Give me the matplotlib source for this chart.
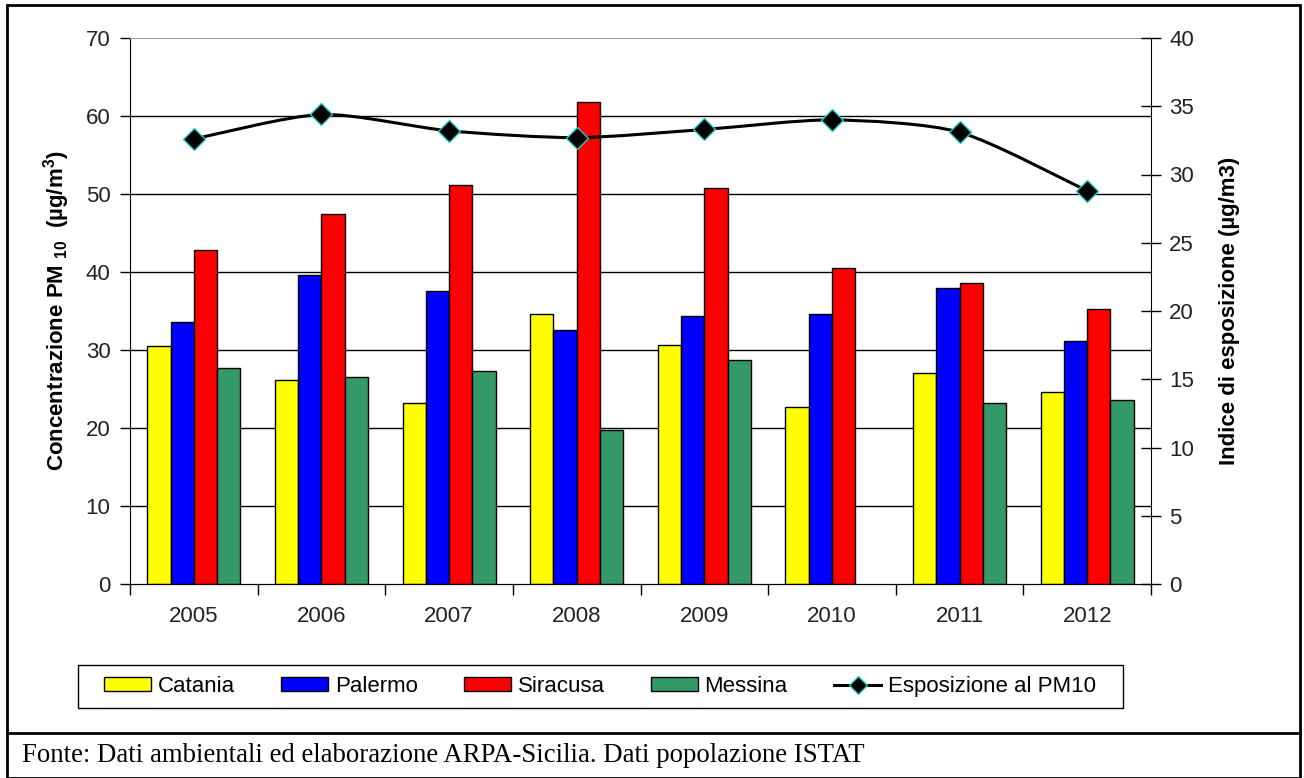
import matplotlib
matplotlib.use("Agg")
import matplotlib.pyplot as plt
import numpy as np
from matplotlib.path import Path
from matplotlib.patches import PathPatch, Rectangle, Patch
from matplotlib.lines import Line2D

plt.rcParams['font.family'] = ['Liberation Sans', 'DejaVu Sans']
plt.rcParams['mathtext.fontset'] = 'custom'
plt.rcParams['mathtext.rm'] = 'Liberation Sans:bold'
plt.rcParams['mathtext.bf'] = 'Liberation Sans:bold'

# Data
years = ["2005", "2006", "2007", "2008", "2009", "2010", "2011", "2012"]
catania = [30.5, 26.2, 23.2, 34.6, 30.6, 22.7, 27.0, 24.6]
palermo = [33.6, 39.6, 37.6, 32.6, 34.4, 34.6, 38.0, 31.2]
siracusa = [42.8, 47.4, 51.2, 61.8, 50.8, 40.5, 38.6, 35.3]
messina = [27.7, 26.5, 27.3, 19.7, 28.7, np.nan, 23.2, 23.6]
esposizione = [32.6, 34.4, 33.2, 32.7, 33.3, 34.0, 33.1, 28.8]

series = [("Catania", catania, "#FFFF00"),
          ("Palermo", palermo, "#0000FF"),
          ("Siracusa", siracusa, "#FF0000"),
          ("Messina", messina, "#339966")]

W, H = 1304, 778
fig = plt.figure(figsize=(W / 100, H / 100), dpi=100)
ax = fig.add_axes([130 / W, 1 - 584 / H, (1151 - 130) / W, (584 - 38) / H])

x = np.arange(len(years))
bw = 0.182
for i, (name, vals, col) in enumerate(series):
    ax.bar(x + (i - 1.5) * bw, vals, width=bw, color=col,
           edgecolor="black", linewidth=1, label=name, zorder=3)

# Left axis
ax.set_xlim(-0.5, len(years) - 0.5)
ax.set_ylim(0, 70)
ax.set_yticks(np.arange(0, 71, 10))
for v in range(10, 70, 10):
    ax.axhline(v, color="black", linewidth=1, zorder=1)
ax.set_xticks(x)
ax.set_xticklabels(years, fontsize=16, color="#222222")
ax.set_xticks(np.arange(-0.5, len(years), 1), minor=True)
ax.tick_params(axis="x", which="major", length=0, pad=16)
ax.tick_params(axis="x", which="minor", length=8, direction="out", width=1)
ax.tick_params(axis="y", labelsize=16, labelcolor="#222222", length=7,
               width=1, direction="out", pad=7)
ax.spines["top"].set_color("#999999")
ax.spines["right"].set_visible(False)
ax.set_ylabel(r"Concentrazione PM $_{10}$  (µg/m$^{3}$)",
              fontsize=16, fontweight="bold", labelpad=10)

# Right axis
ax2 = ax.twinx()
ax2.set_ylim(0, 40)
ax2.set_yticks(np.arange(0, 41, 5))
ax2.tick_params(axis="y", labelsize=16, labelcolor="#222222", length=14,
                width=1, direction="inout", pad=6)
ax2.spines["top"].set_visible(False)
ax2.spines["left"].set_visible(False)
ax2.set_ylabel("Indice di esposizione (µg/m3)", fontsize=16,
               fontweight="bold", labelpad=18)

# Smoothed line (Excel style bezier through the points)
pts = np.column_stack([x, esposizione]).astype(float)
ext = np.vstack([pts[0], pts, pts[-1]])
verts = [tuple(pts[0])]
codes = [Path.MOVETO]
for k in range(len(pts) - 1):
    p0, p1, p2, p3 = ext[k], ext[k + 1], ext[k + 2], ext[k + 3]
    c1 = p1 + (p2 - p0) / 8
    c2 = p2 - (p3 - p1) / 8
    verts += [tuple(c1), tuple(c2), tuple(p2)]
    codes += [Path.CURVE4] * 3
ax2.add_patch(PathPatch(Path(verts, codes), facecolor="none",
                        edgecolor="black", linewidth=2.2, zorder=4))
ax2.plot(x, esposizione, linestyle="none", marker="D", markersize=11,
         markerfacecolor="black", markeredgecolor="#22CCCC",
         markeredgewidth=1, zorder=5)

# Legend (items centred, frame drawn separately to match the box size)
handles = [Patch(facecolor=c, edgecolor="black", label=n) for n, _, c in series]
handles.append(Line2D([], [], color="black", linewidth=2.2, marker="D",
                      markersize=9, markerfacecolor="black",
                      markeredgecolor="#22CCCC", label="Esposizione al PM10"))
leg = fig.legend(handles=handles, loc="center", ncol=5,
                 bbox_to_anchor=(600 / W, 1 - 686.5 / H), fontsize=16,
                 frameon=False, handlelength=2.1, handleheight=0.55,
                 handletextpad=0.3, columnspacing=2.1)
fig.add_artist(Rectangle((78 / W, 1 - 708 / H), (1123 - 78) / W, 43 / H,
                         transform=fig.transFigure, fill=False,
                         edgecolor="black", linewidth=1))

# Outer frame and source note
fig.add_artist(Rectangle((7 / W, 0), (1300 - 7) / W, 1 - 5 / H,
                         transform=fig.transFigure, fill=False,
                         edgecolor="black", linewidth=2))
fig.add_artist(Line2D([7 / W, 1300 / W], [1 - 733 / H, 1 - 733 / H],
                      transform=fig.transFigure, color="black", linewidth=2))
fig.text(22 / W, 1 - 755 / H,
         "Fonte: Dati ambientali ed elaborazione ARPA-Sicilia. Dati popolazione ISTAT",
         fontsize=19.3, family="Liberation Serif", va="center", ha="left")

fig.savefig("out.png", dpi=100)
